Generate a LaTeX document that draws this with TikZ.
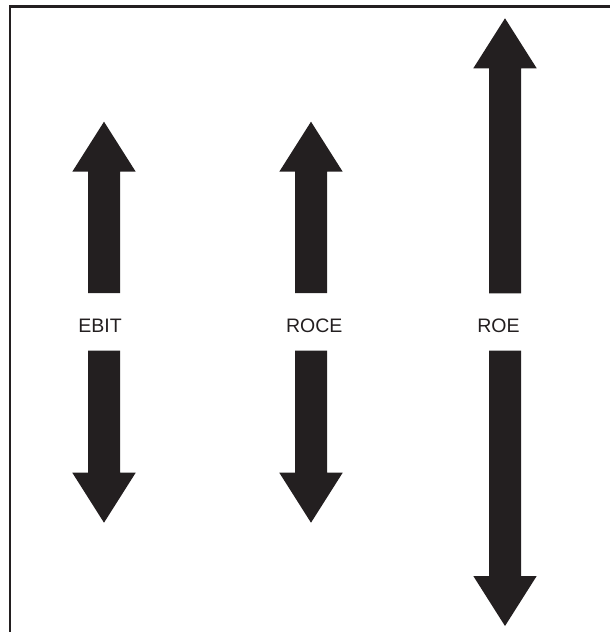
\documentclass[tikz,border=0pt]{standalone}
\usepackage{fontspec}
\setmainfont{Liberation Sans}
\definecolor{ink}{HTML}{231F20}
\newcommand\myUpArrow[3]{%
  \fill[arrowfill] ({#1-16},#3) -- ({#1-16},{#2+50}) -- ({#1-31.7},{#2+50}) -- (#1,#2)
    -- ({#1+31.7},{#2+50}) -- ({#1+16},{#2+50}) -- ({#1+16},#3) -- cycle;}
\newcommand\myDownArrow[3]{%
  \fill[arrowfill] ({#1-16},#3) -- ({#1-16},{#2-50}) -- ({#1-31.7},{#2-50}) -- (#1,#2)
    -- ({#1+31.7},{#2-50}) -- ({#1+16},{#2-50}) -- ({#1+16},#3) -- cycle;}
\tikzset{
  arrowfill/.style={fill=ink, draw=none},
  frameline/.style={draw=ink, line width=2.3pt},
  lbl/.style={font=\fontsize{19.5}{23}\selectfont, text=ink, inner sep=0pt, anchor=center}
}
\begin{document}
\begin{tikzpicture}[x=1pt,y=-1pt]
\useasboundingbox (0,0) rectangle (610,632);
\draw[frameline] (10,640) -- (10,6.4) -- (620,6.4);
% EBIT
\myUpArrow{104}{121.7}{293}
\myDownArrow{104}{522.7}{350.7}
\node[lbl] (ebit) at (100,325.8) {EBIT};
% ROCE
\myUpArrow{311}{121.7}{293}
\myDownArrow{311}{522.7}{350.7}
\node[lbl] (roce) at (314.3,325.8) {ROCE};
% ROE
\myUpArrow{505}{18.3}{293.3}
\myDownArrow{505}{626}{350.7}
\node[lbl] (roe) at (498.4,325.8) {ROE};
\end{tikzpicture}
\end{document}
